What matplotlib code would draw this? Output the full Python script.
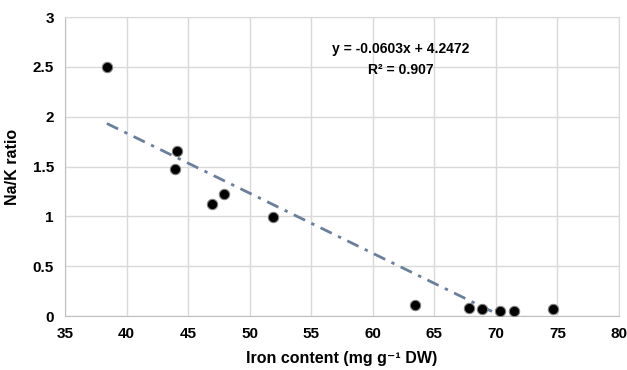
import numpy as np
import matplotlib.pyplot as plt

plt.rcParams['font.family'] = ['Liberation Sans', 'DejaVu Sans']
plt.rcParams['font.weight'] = 'bold'

iron = [38.4, 43.9, 44.1, 46.9, 47.9, 51.9, 63.4, 67.8, 68.9, 70.3, 71.5, 74.6]
nak = [2.5, 1.47, 1.66, 1.12, 1.22, 0.99, 0.11, 0.08, 0.07, 0.05, 0.05, 0.07]
slope = -0.0603
intercept = 4.2472
x_ticks = [35, 40, 45, 50, 55, 60, 65, 70, 75, 80]
y_ticks = [0, 0.5, 1, 1.5, 2, 2.5, 3]
y_tick_labels = ['0', '0.5', '1', '1.5', '2', '2.5', '3']

fig = plt.figure(figsize=(6.27, 3.7), dpi=100)
ax = fig.add_axes([65 / 627, 1 - 316 / 370, (619 - 65) / 627, (316 - 17) / 370])

# trendline over the data range (dash-dot)
tx = np.array([min(iron), 70.3])
ty = slope * tx + intercept
ax.plot(tx, ty, color='#6a7f9c', lw=2, linestyle=(0, (4.5, 2.5, 1.2, 2.5)), zorder=2)

ax.scatter(iron, nak, s=55, color='black', edgecolors='#808080', linewidths=0.8, zorder=3)

ax.set_xlim(35, 80)
ax.set_ylim(0, 3)
ax.set_xticks(x_ticks)
ax.set_xticklabels([str(t) for t in x_ticks], fontweight='bold')
ax.set_yticks(y_ticks)
ax.set_yticklabels(y_tick_labels, fontweight='bold')
ax.grid(True, color='#d9d9d9', lw=1)
ax.set_axisbelow(True)
for s in ax.spines.values():
    s.set_color('#d9d9d9')
ax.spines['left'].set_color('#bfbfbf')
ax.spines['bottom'].set_color('#bfbfbf')
ax.tick_params(length=0, labelsize=11, pad=8)

ax.set_xlabel('Iron content (mg g⁻¹ DW)', fontsize=11.5, fontweight='bold', labelpad=7)
ax.set_ylabel('Na/K ratio', fontsize=11.5, fontweight='bold', labelpad=9)

ax.text(62.3, 2.68, 'y = -0.0603x + 4.2472', ha='center', va='center', fontsize=10, fontweight='bold')
ax.text(62.3, 2.47, 'R² = 0.907', ha='center', va='center', fontsize=10, fontweight='bold')

fig.savefig('out.png', dpi=100)
